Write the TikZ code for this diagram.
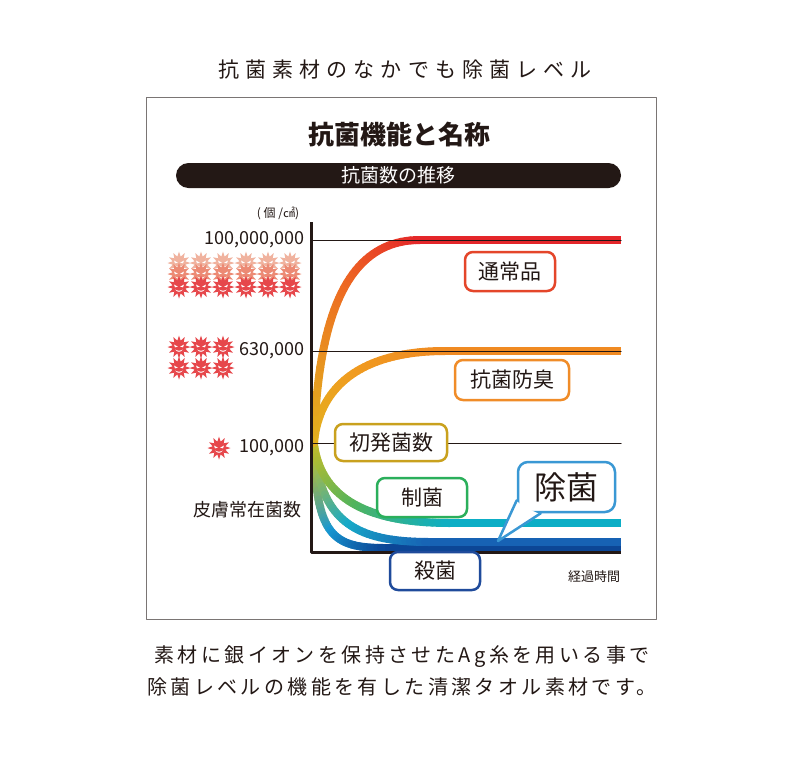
\documentclass[tikz,border=0pt]{standalone}
\usepackage{fontspec}
\setmainfont{Noto Sans CJK JP}
\usetikzlibrary{shapes.geometric}
\usetikzlibrary{positioning}
\usetikzlibrary{calc}
\definecolor{ink}{HTML}{231815}
\definecolor{framegray}{HTML}{7A7574}
\definecolor{germ1}{HTML}{F0B29E}
\definecolor{germ2}{HTML}{EC8A74}
\definecolor{germ3}{HTML}{E6474B}
\definecolor{cgold}{HTML}{E3B01E}
\definecolor{cgreen}{HTML}{C4BC2A}
\definecolor{corange}{HTML}{EE6A22}
\definecolor{cred}{HTML}{E4262A}
\definecolor{camber}{HTML}{F09C20}
\definecolor{cora}{HTML}{F08A22}
\definecolor{cleaf}{HTML}{52B45C}
\definecolor{ccyan}{HTML}{0CAEC6}
\definecolor{cteal}{HTML}{18AAC8}
\definecolor{cblue}{HTML}{1762B4}
\definecolor{csky}{HTML}{1898D2}
\definecolor{cnavy}{HTML}{0C4696}
\definecolor{btsujo}{HTML}{E4462A}
\definecolor{bkokin}{HTML}{F08C28}
\definecolor{bshohatsu}{HTML}{C9A11E}
\definecolor{bseikin}{HTML}{2BAF5B}
\definecolor{bsakkin}{HTML}{1F4B9B}
\definecolor{bjoken}{HTML}{3A98D4}
\tikzstyle{every node}=[font=\fontsize{18}{20}\selectfont,text=ink]
\tikzstyle{every path}=[line width=1pt,line cap=round,line join=round]
\tikzstyle{namebox}=[draw,fill=white,rounded corners=8pt,line width=2.5pt,minimum width=90pt,minimum height=39pt,inner sep=0pt,font=\fontsize{21}{21}\selectfont]
\tikzset{pics/germ/.style={code={
  \node[star,star points=12,star point ratio=1.75,minimum size=23pt,inner sep=0pt,fill=#1] {};
  \fill[white] (-5,-2.5) -- (-1.2,-0.3) -- (-4,0.3) -- cycle;
  \fill[white] (5,-2.5) -- (1.2,-0.3) -- (4,0.3) -- cycle;
  \fill[white] (-4,2.5) .. controls (-2,5.5) and (2,5.5) .. (4,2.5) .. controls (2,4) and (-2,4) .. (-4,2.5) -- cycle;
}}}
% thick curve whose colour runs from #6 over #7 to #8
\newcommand\gradline[8]{%
  \foreach \i in {0,...,40}{
    \pgfmathsetmacro\gtime{\i/40}
    \path #2 .. controls #3 and #4 .. #5 coordinate[pos=\gtime] (#1\i);
  }
  \foreach \i [count=\j] in {0,...,39}{
    \ifnum\i<20 \pgfmathtruncatemacro\q{5*\i}\colorlet{gc}{#7!\q!#6}%
    \else \pgfmathtruncatemacro\q{5*(\i-20)}\colorlet{gc}{#8!\q!#7}\fi
    \draw[line width=8pt,gc] (#1\i) -- (#1\j);
  }
}

\begin{document}
\begin{tikzpicture}[x=1pt,y=-1pt]
  \fill[white] (0,0) rectangle (800,772);
  \useasboundingbox (0,0) rectangle (800,772);
  \node[font={\fontsize{21}{21}\selectfont\addfontfeature{LetterSpace=29}}] (head) at (405,70) {抗菌素材のなかでも除菌レベル};
  \draw[framegray] (146,97) rectangle (656,619);
  \node[font=\bfseries\fontsize{26}{26}\selectfont] (title) at (399,135) {抗菌機能と名称};
  \node[fill=ink,text=white,rounded corners=12.5pt,minimum width=445pt,minimum height=25pt,inner sep=0pt,font=\fontsize{19}{19}\selectfont] (bar) at (398.5,175.5) {抗菌数の推移};

  \foreach \y/\c in {263/germ1,274/germ2,287/germ3}
    \foreach \x in {179,201,223,246,268,290}
      \pic at (\x,\y) {germ=\c};
  \foreach \y in {347,368}
    \foreach \x in {179,201,223}
      \pic at (\x,\y) {germ=germ3};
  \pic at (219,448) {germ=germ3};

  \node[font=\fontsize{12}{12}\selectfont] (unit) at (278,213) {( 個 /㎠)};
  \node[left,inner sep=1pt] (n100m) at (306,240) {100,000,000};
  \node[left,inner sep=1pt] (n630k) at (306,351) {630,000};
  \node[left,inner sep=1pt] (n100k) at (306,448) {100,000};
  \node (skin) at (247,510) {皮膚常在菌数};
  \node[font=\fontsize{13}{13}\selectfont] (elapsed) at (594,577) {経過時間};

  % curves down
  \gradline{sk}{(314,446)}{(316,535)}{(332,548)}{(385,548)}{cgreen}{csky}{cnavy}
  \draw[line width=8pt,line cap=butt,cnavy] (sk40) -- (621,548);
  \gradline{jk}{(314,446)}{(320,525)}{(360,542)}{(430,542)}{cgreen}{cteal}{cblue}
  \draw[line width=8pt,line cap=butt,cblue] (jk40) -- (621,542);
  \gradline{sc}{(314,445)}{(322,500)}{(370,523)}{(450,523)}{cgreen}{cleaf}{ccyan}
  \draw[line width=8pt,line cap=butt,ccyan] (sc40) -- (621,523);
  % curves up
  \gradline{ko}{(314,442)}{(320,380)}{(370,351)}{(445,351)}{cgold}{camber}{cora}
  \draw[line width=8pt,line cap=butt,cora] (ko40) -- (621,351);
  \gradline{ts}{(314,443)}{(318,300)}{(355,240)}{(420,240)}{cgold}{corange}{cred}
  \draw[line width=8pt,line cap=butt,cred] (ts40) -- (621,240);

  \draw[ink] (311,240) -- (621,240);
  \draw[ink] (311,351) -- (621,351);
  \draw[ink] (311,443) -- (621,443);
  \draw[ink,line width=3pt,line cap=butt] (311,222) -- (311,552.5) -- (621,552.5);

  \node[namebox,draw=btsujo] (tsujo) at (510,271.5) {通常品};
  \node[namebox,draw=bkokin,minimum width=114pt,minimum height=40pt] (kokin) at (512,380) {抗菌防臭};
  \node[namebox,draw=bshohatsu,minimum width=112pt,minimum height=37pt] (shohatsu) at (391,442.5) {初発菌数};
  \node[namebox,draw=bseikin] (seikin) at (422,497.5) {制菌};
  \node[namebox,draw=bsakkin,minimum height=38pt] (sakkin) at (435,571) {殺菌};
  \node[namebox,draw=bjoken,rounded corners=10pt,minimum width=97pt,minimum height=50pt,font=\fontsize{32}{32}\selectfont] (joken) at (566.5,487) {除菌};
  \coordinate (jtip) at (498,541);
  \fill[white] ($(joken.south west)+(-1.3,-13)$) -- (jtip) -- ($(joken.south west)+(24,1.3)$) -- ($(joken.south west)+(8,-6)$) -- cycle;
  \draw[bjoken,line width=2.5pt] ($(joken.south west)+(0,-13)$) -- (jtip) -- ($(joken.south west)+(24,0)$);

  \node[align=center,font={\fontsize{20}{32}\selectfont\addfontfeature{LetterSpace=17}}] (note) at (402,671) {素材に銀イオンを保持させたAg糸を用いる事で\\除菌レベルの機能を有した清潔タオル素材です。};
\end{tikzpicture}
\end{document}
